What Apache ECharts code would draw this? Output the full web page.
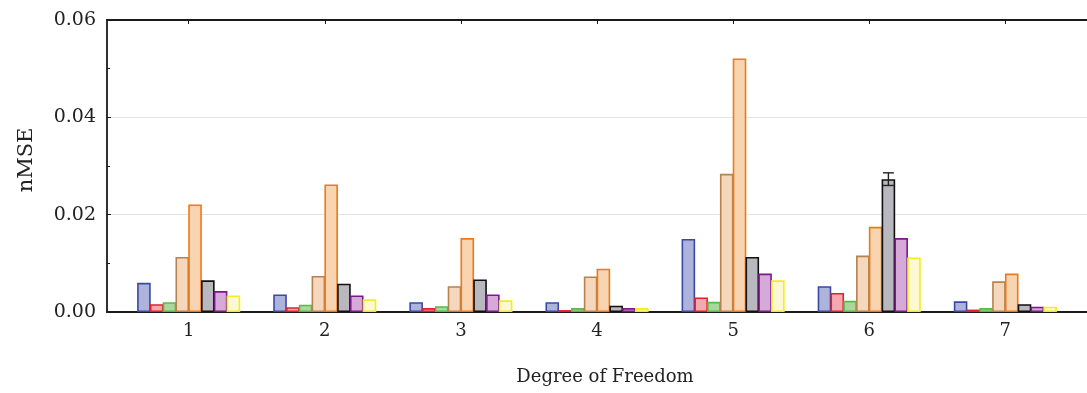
<!DOCTYPE html>
<html>
<head>
<meta charset="utf-8">
<title>nMSE per Degree of Freedom</title>
<script src="https://cdn.jsdelivr.net/npm/echarts@6/dist/echarts.min.js"></script>
<style>
  html, body { margin: 0; padding: 0; background: #ffffff; }
  #chart { width: 1087px; height: 393px; }
</style>
</head>
<body>
<div id="chart"></div>
<script>
// Degree-of-freedom groups on the horizontal axis
const categories = [1, 2, 3, 4, 5, 6, 7];

// nMSE per method, one value per degree of freedom
const methodA = [0.0060, 0.0036, 0.0020, 0.0020, 0.0150, 0.0053, 0.0022];
const methodB = [0.0016, 0.0010, 0.0008, 0.0004, 0.0030, 0.0039, 0.0005];
const methodC = [0.0020, 0.0015, 0.0012, 0.0008, 0.0021, 0.0023, 0.0008];
const methodD = [0.0113, 0.0074, 0.0053, 0.0073, 0.0284, 0.0116, 0.0063];
const methodE = [0.0221, 0.0262, 0.0152, 0.0089, 0.0521, 0.0175, 0.0079];
const methodF = [0.0065, 0.0058, 0.0067, 0.0013, 0.0113, 0.0273, 0.0016];
const methodG = [0.0043, 0.0034, 0.0036, 0.0008, 0.0079, 0.0152, 0.0011];
const methodH = [0.0034, 0.0026, 0.0024, 0.0008, 0.0065, 0.0112, 0.0011];

// Spread for methodF (only the DoF 6 spread is large enough to show)
const methodFErr = [0, 0, 0, 0, 0, 0.0013, 0];

// y axis tick labels
const yTicks = [0.00, 0.02, 0.04, 0.06];

const seriesValues = [methodA, methodB, methodC, methodD, methodE, methodF, methodG, methodH];
const seriesNames = ['A', 'B', 'C', 'D', 'E', 'F', 'G', 'H'];
const fills   = ['#aeb3dc', '#f4a9b1', '#a9d89a', '#f5d7bd', '#f9d4b0', '#b8b8be', '#d7a9d9', '#fcf8d2'];
const borders = ['#3a48a6', '#e61e2c', '#5cb84a', '#b4834f', '#f07818', '#111111', '#7a1a88', '#f0ee1c'];

const BAR_W = 13.6;
const BAR_GAP = -0.06;   // neighbouring bars share their outlines
const FONT = '"DejaVu Serif", "Liberation Serif", serif';
const TEXT = '#222222';

const chart = echarts.init(document.getElementById('chart'), null, { renderer: 'canvas' });

const barSeries = seriesValues.map((vals, i) => ({
  name: seriesNames[i],
  type: 'bar',
  barWidth: BAR_W,
  barGap: (BAR_GAP * 100) + '%',
  data: categories.map((c, k) => [c, vals[k]]),
  itemStyle: { color: fills[i], borderColor: borders[i], borderWidth: 1.6 },
  emphasis: { disabled: true },
  z: 3
}));

// error bar drawn over the methodF bars
const errIndex = 5;
const errSeries = {
  type: 'custom',
  name: 'F-err',
  xAxisIndex: 0,
  yAxisIndex: 0,
  data: categories.map((c, k) => [c, methodF[k], methodFErr[k]]),
  z: 5,
  renderItem: function (params, api) {
    const err = api.value(2);
    if (!err) return null;
    const x = api.value(0), v = api.value(1);
    const step = BAR_W * (1 + BAR_GAP);
    const offset = (errIndex - (seriesValues.length - 1) / 2) * step;
    const top = api.coord([x, v + err]);
    const bot = api.coord([x, v - err]);
    const cx = top[0] + offset;
    const cap = 5.5;
    const style = { stroke: '#222222', lineWidth: 1.4 };
    return {
      type: 'group',
      children: [
        { type: 'line', shape: { x1: cx, y1: top[1], x2: cx, y2: bot[1] }, style },
        { type: 'line', shape: { x1: cx - cap, y1: top[1], x2: cx + cap, y2: top[1] }, style },
        { type: 'line', shape: { x1: cx - cap, y1: bot[1], x2: cx + cap, y2: bot[1] }, style }
      ]
    };
  }
};

const option = {
  animation: false,
  backgroundColor: '#ffffff',
  textStyle: { fontFamily: FONT, color: TEXT },
  grid: { left: 107, right: -8, top: 20, bottom: 81, containLabel: false },
  xAxis: [
    {
      type: 'value',
      position: 'bottom',
      min: 0.4,
      max: 7.6,
      name: 'Degree of Freedom',
      nameLocation: 'middle',
      nameGap: 56,
      nameTextStyle: { fontFamily: FONT, fontSize: 18, color: TEXT, padding: [0, 0, 0, 16] },
      axisLine: { show: true, onZero: false, lineStyle: { color: '#1a1a1a', width: 1.8 } },
      axisTick: { show: true, inside: true, length: 4, customValues: categories, lineStyle: { color: '#1a1a1a' } },
      axisLabel: { customValues: categories, margin: 10, fontFamily: FONT, fontSize: 18, color: TEXT },
      splitLine: { show: false }
    },
    {
      type: 'value',
      position: 'top',
      min: 0.4,
      max: 7.6,
      axisLine: { show: true, onZero: false, lineStyle: { color: '#1a1a1a', width: 2 } },
      axisTick: { show: true, inside: true, length: 4, customValues: categories, lineStyle: { color: '#1a1a1a' } },
      axisLabel: { show: false },
      splitLine: { show: false }
    }
  ],
  yAxis: [
    {
      type: 'value',
      position: 'left',
      min: 0,
      max: 0.06,
      interval: 0.02,
      name: 'nMSE',
      nameLocation: 'middle',
      nameGap: 70,
      nameRotate: 90,
      nameTextStyle: { fontFamily: FONT, fontSize: 21, color: TEXT, padding: [0, 0, 0, 12] },
      axisLine: { show: true, onZero: false, lineStyle: { color: '#1a1a1a', width: 1.8 } },
      axisTick: { show: true, inside: true, length: 4, lineStyle: { color: '#1a1a1a' } },
      minorTick: { show: true, splitNumber: 2, length: 3, lineStyle: { color: '#1a1a1a' } },
      axisLabel: {
        margin: 11,
        fontFamily: FONT,
        fontSize: 19,
        color: TEXT,
        customValues: yTicks,
        formatter: v => v.toFixed(2)
      },
      splitLine: { show: true, lineStyle: { color: '#e4e4e4', width: 1 } }
    },
    {
      type: 'value',
      position: 'right',
      min: 0,
      max: 0.06,
      interval: 0.02,
      axisLine: { show: false },
      axisTick: { show: false },
      axisLabel: { show: false },
      splitLine: { show: false }
    }
  ],
  series: barSeries.concat([errSeries])
};

chart.setOption(option);
</script>
</body>
</html>
